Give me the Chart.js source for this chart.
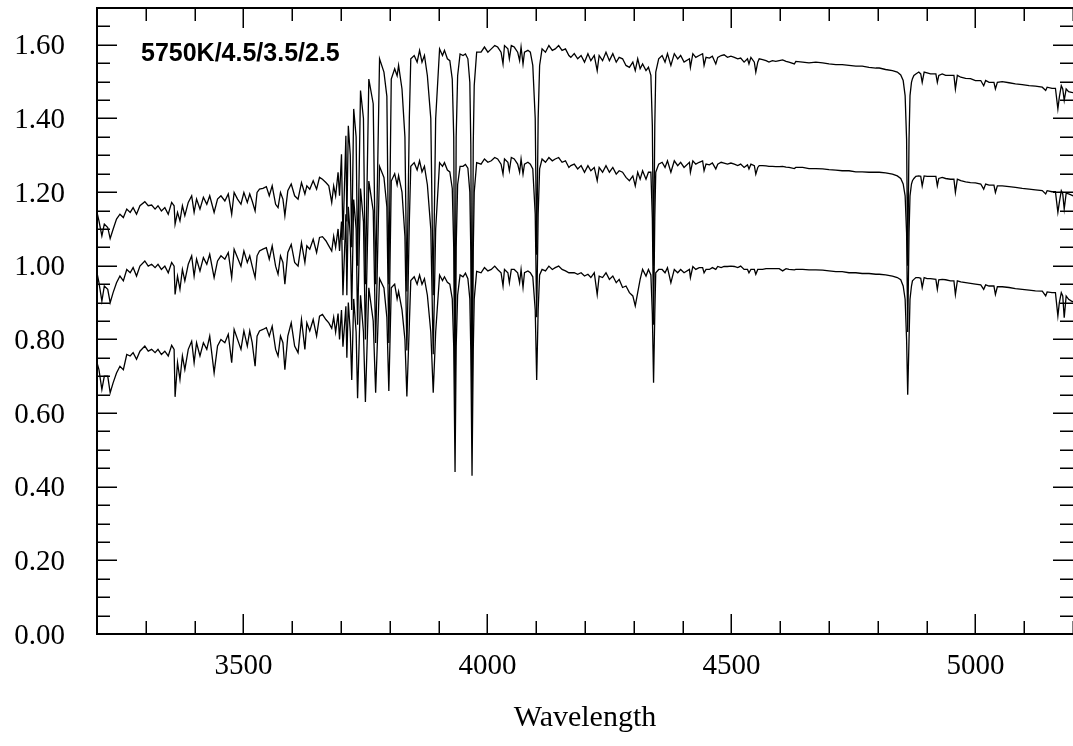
<!DOCTYPE html>
<html><head><meta charset="utf-8">
<script src="https://cdn.jsdelivr.net/npm/chart.js@4/dist/chart.umd.min.js"></script>
<style>
html,body{margin:0;padding:0;background:#fff;overflow:hidden;}
#wrap{position:relative;width:1073px;height:746px;}
</style></head><body>
<div id="wrap"><canvas id="c"></canvas></div>
<script>
// Wavelength grid (Angstrom) shared by the three spectra
const wavelength = [
3200,3204,3210,3215,3222,3227,3233,3240,3247,3254,3261,3268,3274,3281,3288,3298,3305,3312,3319,3325,3332,3339,3346,3353,3358,3360,3365,3370,3375,3380,3387,3394,3399,3404,3411,3418,3425,3431,3440,3447,3454,3462,3469,3476,3481,3488,3495,3501,3508,
3513,3518,3524,3528,3533,3540,3547,3553,3559,3566,3571,3576,3581,3585,3591,3598,3605,3612,3619,3626,3630,3636,3643,3650,3656,3662,3669,3675,
3681,3685,3689,3694,3697,3701,3704,3710,3712,3715,3719,3722,3726,3731,3734,3740,3746,3750,3757,3766,3771,3779,3788,3794,3798,3803,3810,3815,3818,3825,3831,3835,3840,3843,3850,3856,3861,3866,3871,3877,3884,3889,3894,3902,3908,3912,3918,3923,3928,3931,3933.7,3936,3939,3944,3950,3955,3960,3964,3966,3968.5,3971,3973,3978,
3987,3994,4001,4008,4015,4021,4028,4032,4035,4042,4045,4049,4055,4062,4066,4069,4073,4076,4083,4088,4093,4098,4101,4104,4107,4112,4119,4126,4133,4139,4146,4153,4160,4167,4171,4178,4185,4192,4199,4206,4212,4219,4225,4229,4236,4243,4250,4257,4264,4270,4277,4284,4291,4298,4303,4308,4313,4318,4325,4330,4335,4338,4340.5,4343,4345,4351,4358,4364,4369,4376,4383,4390,4396,4403,
4414,4416,4421,4427,4434,4441,4444,4448,4455,4461,4468,4472,4479,4485,4492,4499,4506,4513,4519,4526,4533,4536,4540,4547,4550,4554,4557,4564,4571,4577,4584,4591,4598,4605,4612,4618,4629,4632,4646,4659,4673,4687,4700,4714,4727,4741,4755,4768,4782,4796,
4803,4816,4830,4840,4847,4852,4856,4859,4861.3,4864,4866,4869,4871,4874,4878,4884,4888,4891,4895,4901,4908,4919,4922,4925,4932,4939,4949,4956,4959,4963,4970,4980,4990,5000,5011,5017,5021,5028,5038,5041,5045,5055,5069,5082,5096,5110,5123,5137,5144,5147,5157,5164,5169,5172,5176,5179,5182,5186,5191,5197,5200
];

// Upper spectrum
const upperSpectrum = [
1.145,1.122,1.081,1.113,1.104,1.074,1.099,1.127,1.140,1.131,1.154,1.145,1.158,1.140,1.163,1.174,1.163,1.165,1.154,1.163,1.149,1.158,1.140,1.172,1.163,1.113,1.145,1.122,1.163,1.136,1.172,1.190,1.145,1.181,1.154,1.186,1.167,1.190,1.145,1.181,1.190,1.176,1.195,1.140,1.199,1.181,1.167,1.199,1.172,
1.195,1.176,1.149,1.199,1.208,1.210,1.215,1.190,1.217,1.167,1.158,1.199,1.181,1.136,1.204,1.222,1.190,1.181,1.226,1.195,1.217,1.208,1.231,1.208,1.240,1.235,1.226,1.217,
1.172,1.217,1.190,1.254,1.190,1.303,1.07,1.353,1.12,1.380,1.30,1.05,1.426,1.35,1.00,1.476,1.40,0.95,1.507,1.44,0.95,1.562,1.526,1.46,0.95,1.507,1.535,1.516,1.544,1.48,1.35,0.93,1.40,1.562,1.571,1.553,1.585,1.553,1.571,1.516,1.40,0.92,1.40,1.589,1.571,1.585,1.562,1.557,1.507,1.35,0.72,1.35,1.516,1.575,1.571,1.575,1.562,1.498,1.33,0.70,1.33,1.49,1.580,
1.580,1.594,1.580,1.589,1.598,1.594,1.580,1.548,1.598,1.589,1.562,1.598,1.594,1.580,1.557,1.594,1.548,1.580,1.585,1.580,1.544,1.40,1.03,1.40,1.544,1.589,1.580,1.598,1.585,1.589,1.598,1.585,1.589,1.571,1.566,1.576,1.562,1.571,1.553,1.576,1.557,1.571,1.530,1.571,1.557,1.580,1.557,1.576,1.553,1.566,1.562,1.544,1.539,1.553,1.530,1.562,1.535,1.548,1.530,1.539,1.517,1.38,1.00,1.38,1.526,1.562,1.571,1.553,1.576,1.544,1.576,1.562,1.571,1.553,
1.562,1.539,1.576,1.566,1.571,1.576,1.544,1.566,1.564,1.569,1.548,1.566,1.571,1.573,1.566,1.569,1.566,1.562,1.564,1.553,1.562,1.548,1.566,1.553,1.526,1.553,1.562,1.560,1.557,1.553,1.557,1.555,1.557,1.559,1.555,1.553,1.548,1.555,1.553,1.551,1.553,1.551,1.548,1.546,1.546,1.544,1.542,1.542,1.539,1.537,
1.537,1.533,1.530,1.526,1.518,1.503,1.462,1.344,1.00,1.344,1.462,1.498,1.508,1.517,1.521,1.526,1.521,1.498,1.526,1.524,1.521,1.521,1.498,1.517,1.521,1.517,1.517,1.517,1.480,1.517,1.512,1.509,1.508,1.503,1.503,1.489,1.503,1.498,1.498,1.480,1.498,1.500,1.497,1.494,1.492,1.489,1.488,1.485,1.476,1.485,1.482,1.482,1.426,1.458,1.489,1.480,1.449,1.480,1.473,1.471,1.470
];

// Middle spectrum
const middleSpectrum = [
0.981,0.954,0.904,0.945,0.936,0.900,0.927,0.954,0.972,0.959,0.990,0.981,0.995,0.972,0.999,1.013,0.999,1.004,0.995,1.004,0.990,0.999,0.981,1.009,0.999,0.922,0.972,0.936,0.990,0.959,1.004,1.027,0.972,1.018,0.986,1.022,1.004,1.031,0.968,1.013,1.027,1.018,1.036,0.968,1.045,1.022,0.999,1.040,1.009,
1.027,0.999,0.968,1.027,1.040,1.045,1.049,1.018,1.054,0.999,0.977,1.027,1.009,0.950,1.036,1.058,1.009,0.999,1.063,1.009,1.054,1.045,1.072,1.036,1.077,1.079,1.068,1.054,
1.04,1.08,1.05,1.10,1.04,1.12,0.92,1.14,0.92,1.16,1.08,0.88,1.18,1.10,0.84,1.21,1.12,0.80,1.23,1.15,0.79,1.27,1.24,1.16,0.79,1.23,1.25,1.22,1.245,1.20,1.08,0.77,1.12,1.27,1.28,1.26,1.285,1.255,1.27,1.22,1.10,0.76,1.10,1.28,1.27,1.28,1.26,1.255,1.21,1.05,0.58,1.05,1.22,1.27,1.27,1.275,1.265,1.20,1.04,0.57,1.04,1.20,1.28,
1.276,1.290,1.281,1.285,1.294,1.290,1.276,1.249,1.290,1.281,1.258,1.294,1.290,1.276,1.254,1.290,1.249,1.276,1.281,1.276,1.263,1.14,0.86,1.14,1.263,1.290,1.281,1.294,1.285,1.290,1.294,1.281,1.285,1.267,1.272,1.276,1.263,1.272,1.254,1.272,1.258,1.267,1.231,1.267,1.254,1.272,1.254,1.267,1.249,1.258,1.254,1.240,1.231,1.244,1.217,1.254,1.235,1.258,1.235,1.254,1.254,1.13,0.84,1.13,1.254,1.276,1.281,1.267,1.285,1.254,1.285,1.272,1.281,1.267,
1.281,1.254,1.285,1.276,1.281,1.285,1.258,1.276,1.274,1.279,1.263,1.276,1.281,1.279,1.276,1.279,1.276,1.272,1.276,1.267,1.274,1.263,1.276,1.272,1.249,1.267,1.272,1.272,1.271,1.270,1.270,1.269,1.269,1.270,1.268,1.267,1.264,1.267,1.267,1.264,1.264,1.263,1.261,1.260,1.258,1.258,1.255,1.255,1.254,1.254,
1.254,1.252,1.249,1.244,1.237,1.222,1.190,1.090,0.82,1.090,1.190,1.222,1.231,1.237,1.243,1.244,1.243,1.217,1.244,1.243,1.243,1.243,1.217,1.237,1.240,1.237,1.235,1.235,1.199,1.235,1.231,1.228,1.226,1.225,1.222,1.208,1.222,1.219,1.219,1.199,1.217,1.217,1.215,1.213,1.210,1.208,1.206,1.204,1.195,1.204,1.201,1.201,1.145,1.172,1.204,1.195,1.154,1.197,1.195,1.192,1.190
];

// Lower spectrum
const lowerSpectrum = [
0.737,0.718,0.664,0.700,0.700,0.655,0.682,0.709,0.727,0.718,0.759,0.755,0.764,0.746,0.768,0.782,0.768,0.773,0.764,0.773,0.759,0.768,0.755,0.784,0.773,0.644,0.737,0.691,0.755,0.718,0.773,0.795,0.737,0.791,0.755,0.791,0.773,0.809,0.709,0.782,0.800,0.791,0.814,0.737,0.827,0.800,0.773,0.823,0.782,
0.823,0.791,0.727,0.809,0.823,0.827,0.832,0.809,0.836,0.773,0.755,0.809,0.791,0.718,0.809,0.845,0.782,0.764,0.854,0.773,0.845,0.823,0.854,0.809,0.863,0.868,0.854,0.845,
0.83,0.86,0.82,0.87,0.80,0.88,0.78,0.89,0.75,0.90,0.82,0.69,0.91,0.82,0.64,0.92,0.82,0.63,0.94,0.85,0.655,0.965,0.94,0.86,0.66,0.94,0.95,0.91,0.93,0.88,0.80,0.645,0.84,0.96,0.97,0.95,0.975,0.95,0.965,0.92,0.82,0.655,0.82,0.975,0.96,0.97,0.955,0.95,0.91,0.78,0.44,0.78,0.92,0.975,0.97,0.98,0.965,0.91,0.77,0.43,0.77,0.91,0.985,
0.981,0.995,0.986,0.990,0.999,0.990,0.981,0.945,0.990,0.981,0.954,0.990,0.990,0.981,0.954,0.990,0.941,0.981,0.986,0.981,0.970,0.88,0.69,0.88,0.975,0.990,0.986,0.999,0.990,0.995,0.999,0.990,0.986,0.981,0.981,0.981,0.977,0.981,0.972,0.977,0.968,0.981,0.922,0.972,0.968,0.981,0.963,0.972,0.954,0.963,0.941,0.945,0.927,0.918,0.891,0.927,0.963,0.990,0.972,0.990,0.975,0.87,0.682,0.87,0.981,0.990,0.990,0.981,0.995,0.954,0.990,0.981,0.990,0.981,
0.990,0.968,0.998,0.990,0.995,0.995,0.981,0.990,0.990,0.995,0.990,0.998,0.995,0.998,0.998,0.999,0.998,0.995,0.999,0.990,0.990,0.981,0.990,0.990,0.977,0.990,0.990,0.990,0.992,0.992,0.992,0.992,0.992,0.986,0.992,0.990,0.989,0.990,0.990,0.989,0.989,0.988,0.986,0.984,0.984,0.981,0.981,0.979,0.979,0.977,
0.977,0.975,0.972,0.968,0.962,0.945,0.909,0.800,0.650,0.800,0.909,0.945,0.959,0.963,0.968,0.968,0.966,0.941,0.968,0.965,0.965,0.963,0.936,0.962,0.963,0.962,0.959,0.959,0.922,0.959,0.956,0.954,0.952,0.950,0.948,0.936,0.948,0.945,0.945,0.922,0.943,0.943,0.941,0.938,0.936,0.934,0.932,0.931,0.918,0.929,0.927,0.927,0.864,0.900,0.927,0.918,0.859,0.918,0.909,0.904,0.902
];

const xTickLabels = [3500, 4000, 4500, 5000];
const yTickLabels = ['0.00','0.20','0.40','0.60','0.80','1.00','1.20','1.40','1.60'];
const xAxisTitle = 'Wavelength';
const panelLabel = '5750K/4.5/3.5/2.5';

[upperSpectrum, middleSpectrum, lowerSpectrum].forEach((a, i) => {
  if (a.length !== wavelength.length) console.warn('length mismatch', i, a.length, wavelength.length);
});

const serif = '"Liberation Serif", "Times New Roman", serif';
const toPoints = arr => wavelength.map((w, i) => ({x: w, y: arr[i]}));
const makeSet = arr => ({
  data: toPoints(arr), borderColor: '#000', borderWidth: 1.3, pointRadius: 0,
  fill: false, tension: 0, spanGaps: true
});
const isMajorX = v => xTickLabels.includes(Math.round(v));
const isMajorY = v => yTickLabels.includes(v.toFixed(2));

const frame = {
  id: 'frame',
  afterDraw(chart) {
    const {ctx, chartArea: a, scales: {x, y}} = chart;
    ctx.save();
    ctx.strokeStyle = '#000';
    ctx.lineWidth = 2;
    ctx.beginPath();
    ctx.moveTo(a.left, a.top); ctx.lineTo(a.right, a.top);
    ctx.moveTo(a.left, a.top - 1); ctx.lineTo(a.left, a.bottom + 1);
    ctx.moveTo(a.left, a.bottom); ctx.lineTo(a.right, a.bottom);
    ctx.stroke();
    ctx.lineWidth = 1.5;
    ctx.beginPath();
    x.ticks.forEach(t => {
      const px = Math.round(x.getPixelForValue(t.value)) + 0.25;
      const len = isMajorX(t.value) ? 20 : 13;
      ctx.moveTo(px, a.bottom); ctx.lineTo(px, a.bottom - len);
      ctx.moveTo(px, a.top); ctx.lineTo(px, a.top + len);
    });
    y.ticks.forEach(t => {
      const py = Math.round(y.getPixelForValue(t.value)) + 0.25;
      const len = isMajorY(t.value) ? 20 : 13;
      ctx.moveTo(a.left, py); ctx.lineTo(a.left + len, py);
      ctx.moveTo(a.right, py); ctx.lineTo(a.right - len, py);
    });
    ctx.stroke();
    ctx.fillStyle = '#000';
    ctx.font = 'bold 25px "Liberation Sans", Arial, Helvetica, sans-serif';
    ctx.textBaseline = 'alphabetic';
    ctx.textAlign = 'left';
    ctx.fillText(panelLabel, a.left + 44, a.top + 53);
    ctx.restore();
  }
};

new Chart(document.getElementById('c'), {
  type: 'line',
  data: {datasets: [makeSet(upperSpectrum), makeSet(middleSpectrum), makeSet(lowerSpectrum)]},
  options: {
    responsive: true, maintainAspectRatio: false, animation: false,
    layout: {padding: {top: 8, right: 0, left: 0, bottom: 0}},
    plugins: {legend: {display: false}, tooltip: {enabled: false}},
    scales: {
      x: {
        type: 'linear', min: 3200, max: 5200,
        ticks: {stepSize: 100, autoSkip: false, maxRotation: 0, minRotation: 0, padding: 15,
          color: '#000', font: {family: serif, size: 29},
          callback: v => isMajorX(v) ? String(Math.round(v)) : ''},
        grid: {display: false, drawTicks: false},
        border: {display: false},
        title: {display: true, text: xAxisTitle, color: '#000', font: {family: serif, size: 30}, padding: {top: 0, bottom: 10}},
        afterFit: s => { s.height = 112; s.paddingLeft = 0; s.paddingRight = 0; }
      },
      y: {
        type: 'linear', min: 0, max: 1.7,
        ticks: {stepSize: 0.05, autoSkip: false, padding: 32, labelOffset: 2, color: '#000', font: {family: serif, size: 29},
          callback: v => isMajorY(v) ? v.toFixed(2) : ''},
        grid: {display: false, drawTicks: false},
        border: {display: false},
        afterFit: s => { s.width = 97; s.paddingTop = 0; s.paddingBottom = 0; }
      }
    }
  },
  plugins: [frame]
});
</script>
</body></html>
